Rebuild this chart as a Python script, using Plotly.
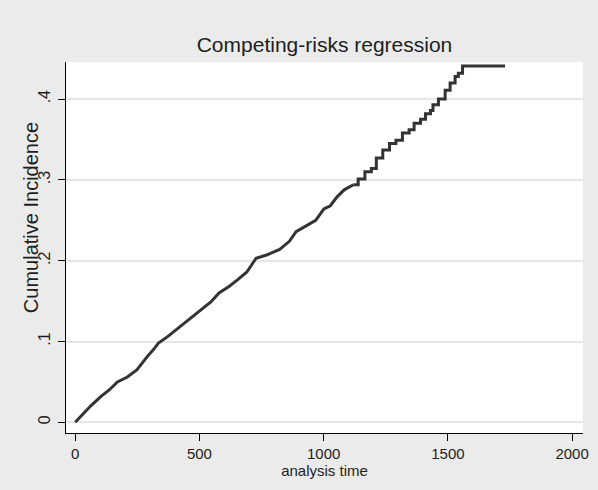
import plotly.graph_objects as go

# Cumulative incidence readings (analysis time, CIF)
# early part: many small steps (drawn as a fine jagged line through readings)
time_early = [0, 32, 65, 104, 137, 170, 210, 249, 263, 289, 315, 335, 372, 388,
              427, 467, 506, 546, 579, 619, 652, 691, 728, 770, 823, 862, 889,
              922, 968, 1001, 1027, 1054, 1084, 1120]
cif_early = [0.000, 0.011, 0.021, 0.032, 0.040, 0.050, 0.056, 0.065, 0.071, 0.081,
             0.090, 0.098, 0.106, 0.110, 0.120, 0.129, 0.139, 0.149, 0.160, 0.168,
             0.176, 0.186, 0.203, 0.207, 0.214, 0.224, 0.236, 0.242, 0.250, 0.264,
             0.268, 0.279, 0.288, 0.294]
# late part: larger visible steps
time_late = [1120, 1139, 1166, 1192, 1212, 1238, 1265, 1291, 1317, 1344, 1364,
             1390, 1410, 1430, 1440, 1462, 1489, 1509, 1529, 1542, 1559, 1730]
cif_late = [0.294, 0.301, 0.310, 0.314, 0.327, 0.337, 0.345, 0.349, 0.358, 0.362,
            0.370, 0.375, 0.382, 0.386, 0.393, 0.400, 0.411, 0.420, 0.428, 0.432,
            0.441, 0.441]

x_ticks = [0, 500, 1000, 1500, 2000]
y_ticks = [0, 0.1, 0.2, 0.3, 0.4]
y_tick_labels = ["0", ".1", ".2", ".3", ".4"]

line_style = dict(color="#333333", width=3)
fig = go.Figure()
fig.add_trace(go.Scatter(x=time_early, y=cif_early, mode="lines",
                         line=line_style, showlegend=False))
fig.add_trace(go.Scatter(x=time_late, y=cif_late, mode="lines", line_shape="hv",
                         line=line_style, showlegend=False))

font_family = "Liberation Sans, Arial, sans-serif"
fig.update_layout(
    width=598, height=490,
    paper_bgcolor="#ebebeb", plot_bgcolor="#ffffff",
    margin=dict(l=66, r=9, t=62, b=57),
    font=dict(family=font_family, color="#1e1e1e"),
    title=dict(text="Competing-risks regression", x=0.5, xref="paper",
               y=1, yref="container", yanchor="top", pad=dict(t=37),
               font=dict(size=21, color="#1e1e1e", family=font_family)),
    annotations=[dict(text="Cumulative Incidence", textangle=-90,
                      xref="paper", yref="paper", x=-0.069, y=0.58,
                      xanchor="center", yanchor="middle", showarrow=False,
                      font=dict(size=20, color="#1e1e1e"))],
)
fig.update_xaxes(
    range=[-37, 2043.8], tickvals=x_ticks,
    showgrid=False, zeroline=False,
    showline=True, linecolor="#000000", linewidth=1,
    ticks="outside", ticklen=7, tickcolor="#000000",
    tickfont=dict(size=15),
    title=dict(text="analysis time", font=dict(size=15), standoff=0),
)
fig.update_yaxes(
    range=[-0.01324, 0.4459], tickvals=y_ticks, ticktext=y_tick_labels,
    tickangle=-90, ticklabelstandoff=2,
    showgrid=True, gridcolor="#e6e6e6", gridwidth=2, zeroline=False,
    showline=True, linecolor="#000000", linewidth=1,
    ticks="outside", ticklen=7, tickcolor="#000000",
    tickfont=dict(size=16),
)

fig.write_html(
    "out.html",
    config={"displayModeBar": False},
    post_script="document.body.style.margin='0';document.body.style.overflow='hidden';",
)
